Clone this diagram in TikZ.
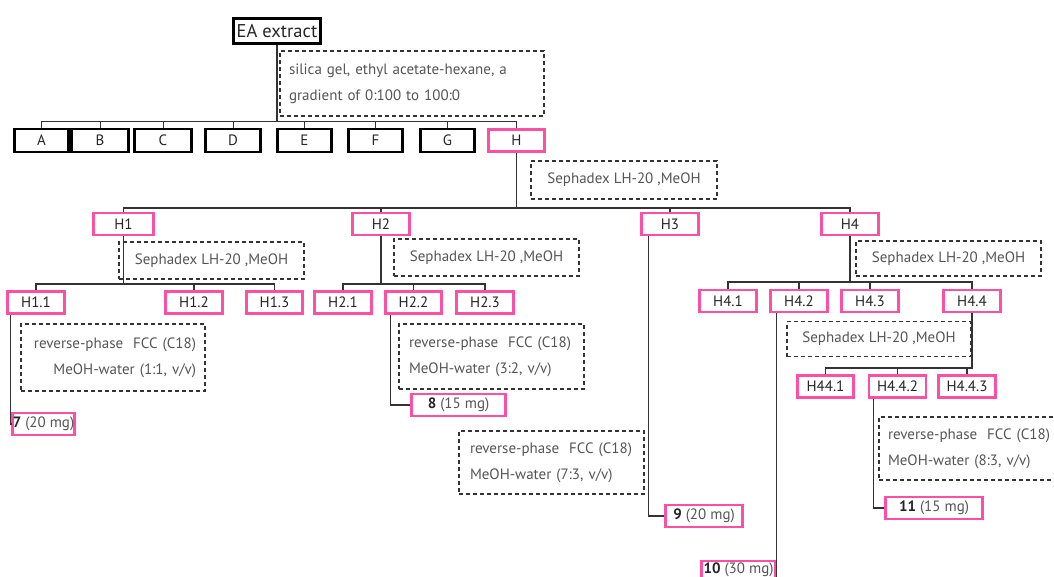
\documentclass[tikz,border=0pt]{standalone}
\usepackage{fontspec}
\setmainfont{PT Sans}
\usetikzlibrary{positioning}
\definecolor{fracpink}{HTML}{FF4FA3}
\definecolor{linegray}{HTML}{333333}
\definecolor{textgray}{HTML}{555555}
\tikzset{
  blackbox/.style={draw=black, line width=2.6pt, inner sep=0pt, minimum height=23pt,
    text=black!85, font=\fontsize{15}{17}\selectfont},
  pinkbox/.style={draw=fracpink, line width=2.6pt, inner sep=0pt, minimum height=22pt,
    text=black!85, font=\fontsize{15}{17}\selectfont},
  condbox/.style={draw=linegray, dash pattern=on 4pt off 3pt, line width=1.1pt,
    inner sep=0pt, text=textgray, font=\fontsize{15}{26}\selectfont},
  link/.style={draw=linegray, line width=1.2pt},
  tick/.style={draw=linegray, line width=0.9pt}
}
% #1 name, #2 x, #3 y, #4 width, #5 label
\newcommand{\bfrac}[5]{\node[blackbox, minimum width=#4] (#1) at (#2,#3) {#5};}
\newcommand{\pfrac}[5]{\node[pinkbox, minimum width=#4] (#1) at (#2,#3) {#5};}
% #1 name, #2 x, #3 y, #4 width, #5 height, #6 text width, #7 align, #8 text
\newcommand{\cond}[8]{\node[condbox, minimum width=#4, minimum height=#5,
  text width=#6, align=#7] (#1) at (#2,#3) {#8};}
\newcommand{\cpd}[2]{\textbf{#1}~\textcolor{textgray}{(#2)}}

\begin{document}
\begin{tikzpicture}[x=1pt, y=-1pt]
\clip (0,0) rectangle (1054,576);
\fill[white] (0,0) rectangle (1054,576);
% bus levels
\coordinate (busA) at (0,121);
\coordinate (busH) at (0,208);
\coordinate (busHa) at (0,284);
\coordinate (busHd) at (0,282);
\coordinate (busHdd) at (0,368);
% EA extract
\node[blackbox, minimum width=87, minimum height=25, font=\fontsize{18.5}{20}\selectfont]
  (EA) at (277,31) {EA extract};
\cond{silica}{412}{83.5}{264}{65}{246}{left}{silica gel, ethyl acetate-hexane, a\\gradient of 0:100 to 100:0}
% fractions A-H
\bfrac{A}{41.5}{140.5}{54}{A}
\bfrac{B}{100}{140.5}{57}{B}
\bfrac{C}{163}{140.5}{57}{C}
\bfrac{D}{233}{140.5}{55}{D}
\bfrac{E}{304.5}{140.5}{54}{E}
\bfrac{F}{375.5}{140.5}{54}{F}
\bfrac{G}{447.5}{140.5}{54}{G}
\pfrac{H}{516.5}{140.5}{56}{H}
\draw[link] (EA.south) -- (EA.south |- busA);
\draw[tick] (A.north) -- (A.north |- busA) -| (H.north);
\foreach \n in {B,C,D,E,F,G}
  \draw[tick] (\n.north) -- (\n.north |- busA);
% H -> H1..H4
\cond{sephH}{624}{180}{186}{38}{}{center}{Sephadex LH-20 ,MeOH}
\pfrac{H1}{123.5}{224}{60}{H1}
\pfrac{H2}{381}{224}{57}{H2}
\pfrac{H3}{670}{224}{57}{H3}
\pfrac{H4}{850}{224}{57}{H4}
\draw[link] (H.south) -- (H.south |- busH);
\draw[link] (H1.north) -- (H1.north |- busH) -| (H4.north);
\foreach \n in {H2,H3}
  \draw[link] (\n.north) -- (\n.north |- busH);
% H1
\cond{sephHa}{211.5}{260.5}{185}{37}{}{center}{Sephadex LH-20 ,MeOH}
\pfrac{H11}{36}{302.5}{57}{H1.1}
\pfrac{H12}{194}{302.5}{57}{H1.2}
\pfrac{H13}{274.5}{302.5}{56}{H1.3}
\draw[link] (H1.south) -- (H1.south |- busHa);
\draw[link] (H11.north) -- (H11.north |- busHa) -| (H13.north);
\draw[link] (H12.north) -- (H12.north |- busHa);
\cond{rpA}{113}{357.5}{184}{67}{166}{right}{reverse-phase~ FCC (C18)\\MeOH-water (1:1, v/v)}
\pfrac{r7}{43.5}{424}{58}{\cpd{7}{20 mg}}
\draw[link] ([xshift=4.5pt]H11.south west) |- (r7.west);
% H2
\cond{sephHb}{486.5}{257.5}{185}{37}{}{center}{Sephadex LH-20 ,MeOH}
\pfrac{H21}{343}{302.5}{57}{H2.1}
\pfrac{H22}{413.5}{302.5}{56}{H2.2}
\pfrac{H23}{485}{302.5}{57}{H2.3}
\draw[link] (H2.south) -- (H2.south |- busHa);
\draw[link] (H21.north) -- (H21.north |- busHa) -| (H23.north);
\draw[link] (H22.north) -- (H22.north |- busHa);
\cond{rpB}{491.5}{356.5}{185}{65}{165}{left}{reverse-phase~ FCC (C18)\\MeOH-water (3:2, v/v)}
\pfrac{r8}{458.5}{405}{94}{\cpd{8}{15 mg}}
\draw[link] ([xshift=6pt]H22.south west) |- (r8.west);
% H3
\cond{rpC}{551.5}{462.5}{185}{63}{163}{left}{reverse-phase~ FCC (C18)\\MeOH-water (7:3, v/v)}
\pfrac{r9}{704}{516}{77}{\cpd{9}{20 mg}}
\draw[link] ([xshift=8pt]H3.south west) |- (r9.west);
% H4
\cond{sephHd}{948.5}{258.5}{185}{35}{}{center}{Sephadex LH-20 ,MeOH}
\pfrac{H41}{728}{301}{57}{H4.1}
\pfrac{H42}{799}{301}{57}{H4.2}
\pfrac{H43}{870}{301}{57}{H4.3}
\pfrac{H44}{972}{301}{57}{H4.4}
\draw[link] (H4.south) -- (H4.south |- busHd);
\draw[link] (H41.north) -- (H41.north |- busHd) -| (H44.north);
\foreach \n in {H42,H43}
  \draw[link] (\n.north) -- (\n.north |- busHd);
\pfrac{r10}{738.5}{572}{74}{\raisebox{7pt}{\cpd{10}{30 mg}}}
\draw[link] (r10.east |- H42.south) -- (r10.south east);
% H4.4
\cond{sephHdd}{879}{339}{184}{35}{}{center}{Sephadex LH-20 ,MeOH}
\pfrac{H441}{825.5}{386.5}{56}{H44.1}
\pfrac{H442}{897.5}{386.5}{57}{H4.4.2}
\pfrac{H443}{967}{386.5}{57}{H4.4.3}
\draw[link] (H44.south) -- (H44.south |- busHdd) -| (H441.north);
\foreach \n in {H442,H443}
  \draw[link] (\n.north) -- (\n.north |- busHdd);
\cond{rpD}{971.5}{448.5}{185}{63}{167}{left}{reverse-phase~ FCC (C18)\\MeOH-water (8:3, v/v)}
\pfrac{r11}{934}{508}{97}{\cpd{11}{15 mg}}
\draw[link] ([xshift=6pt]H442.south west) |- (r11.west);
\end{tikzpicture}
\end{document}
